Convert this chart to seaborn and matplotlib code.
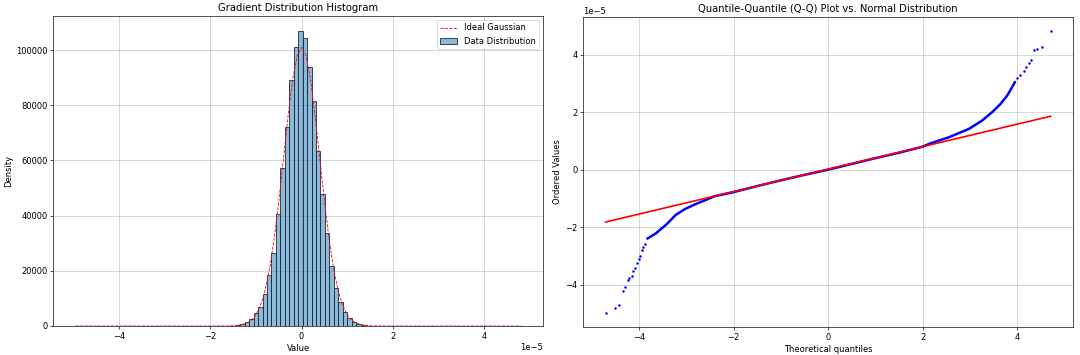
import numpy as np
import pandas as pd
import matplotlib
matplotlib.use("Agg")
import matplotlib.pyplot as plt
import seaborn as sns

# ---- histogram (values in units of 1e-5, densities) ----
hist_range = (-4.96, 4.81)
n_bins = 100
# bar heights for bins 33..67 (all other bins are ~0)
first_bin = 33
bar_heights = [
    40, 80, 150,
    300, 700, 1600, 2500, 4600, 6800, 11600, 18400, 26400, 40700,
    57100, 72200, 89100, 101000,
    107000,
    104400, 93700, 81600, 63400, 48000, 33700, 21600, 13700, 8800,
    5200, 3000, 1600, 700,
    300, 150, 60, 30,
]

# ideal gaussian curve (x in 1e-5, density)
gauss_x = [-4.96, -2.0, -1.6, -1.4, -1.2, -1.1, -1.0, -0.9, -0.8, -0.7, -0.6,
           -0.5, -0.4, -0.3, -0.2, -0.1, 0.0, 0.1, 0.2, 0.3, 0.4, 0.5, 0.6,
           0.7, 0.8, 0.9, 1.0, 1.1, 1.2, 1.4, 1.6, 2.0, 4.81]
gauss_y = [0, 0, 30, 190, 1000, 2100, 4100, 7500, 13000, 21000, 31900,
           45300, 60500, 75700, 88900, 97800, 101000, 97800, 88900, 75700,
           60500, 45300, 31900, 21000, 13000, 7500, 4100, 2100, 1000, 190,
           30, 0, 0]

# ---- Q-Q plot (theoretical quantiles, ordered values in 1e-5) ----
qq_dense_x = [-3.82, -3.73, -3.65, -3.55, -3.44, -3.33, -3.23, -3.12, -3.02,
              -2.81, -2.60, -2.42, -2.0, -1.5, -1.0, -0.5, 0.0, 0.5, 1.0,
              1.5, 2.0, 2.14, 2.56, 2.98, 3.26, 3.47, 3.65, 3.79, 3.89, 3.95]
qq_dense_y = [-2.39, -2.30, -2.22, -2.08, -1.93, -1.75, -1.58, -1.46, -1.36,
              -1.20, -1.06, -0.93, -0.78, -0.57, -0.37, -0.18, 0.0, 0.20,
              0.40, 0.59, 0.80, 0.90, 1.13, 1.42, 1.71, 2.00, 2.29, 2.58,
              2.86, 3.04]
qq_tail_x = [-4.70, -4.51, -4.42, -4.35, -4.29, -4.24, -4.21, -4.16, -4.13,
             -4.08, -4.05, -4.01, -3.98, -3.94, -3.91, -3.88,
             4.00, 4.07, 4.14, 4.19, 4.25, 4.30, 4.35, 4.42, 4.53, 4.71]
qq_tail_y = [-4.97, -4.82, -4.70, -4.22, -4.09, -3.84, -3.78, -3.70, -3.51,
             -3.43, -3.26, -3.09, -3.00, -2.80, -2.68, -2.57,
             3.18, 3.30, 3.44, 3.56, 3.70, 3.82, 4.17, 4.19, 4.27, 4.83]
qq_line_x = [-4.71, 4.71]
qq_line_y = [-1.82, 1.86]

scale = 1e-5

fig = plt.figure(figsize=(18, 355 / 60), dpi=60)
ax1 = fig.add_axes([0.0494, 0.0817, 0.4534, 0.8733])
ax2 = fig.add_axes([0.5401, 0.0797, 0.4534, 0.8733])

# histogram
lo, hi = hist_range[0] * scale, hist_range[1] * scale
width = (hi - lo) / n_bins
heights = np.zeros(n_bins)
heights[first_bin:first_bin + len(bar_heights)] = bar_heights
hist_df = pd.DataFrame({
    "value": lo + width * (np.arange(n_bins) + 0.5),
    "density": heights,
})

ax1.set_axisbelow(True)
ax1.grid(True, color="#b0b0b0", alpha=0.6, linewidth=1)
sns.histplot(data=hist_df, x="value", weights="density", bins=n_bins,
             binrange=(lo, hi), stat="count", ax=ax1,
             facecolor=(0.122, 0.467, 0.706, 0.5), edgecolor="#1c2b3f",
             linewidth=1.0, label="Data Distribution")
sns.lineplot(x=np.array(gauss_x) * scale, y=gauss_y, ax=ax1, color="red",
             linestyle="--", linewidth=1.0, estimator=None, sort=False,
             label="Ideal Gaussian")
ax1.set_title("Gradient Distribution Histogram")
ax1.set_xlabel("Value")
ax1.set_ylabel("Density")
h, l = ax1.get_legend_handles_labels()
order = [l.index("Ideal Gaussian"), l.index("Data Distribution")]
ax1.legend([h[i] for i in order], [l[i] for i in order], loc="upper right")

# q-q plot
ax2.set_axisbelow(True)
ax2.grid(True, color="#b0b0b0", alpha=0.6, linewidth=1)
sns.lineplot(x=qq_dense_x, y=np.array(qq_dense_y) * scale, ax=ax2,
             color="blue", linewidth=3.0, estimator=None, sort=False)
sns.scatterplot(x=qq_tail_x, y=np.array(qq_tail_y) * scale, ax=ax2,
                color="blue", s=9, linewidth=0)
sns.lineplot(x=qq_line_x, y=np.array(qq_line_y) * scale, ax=ax2,
             color="red", linewidth=2, estimator=None, sort=False)
ax2.set_title("Quantile-Quantile (Q-Q) Plot vs. Normal Distribution")
ax2.set_xlabel("Theoretical quantiles")
ax2.set_ylabel("Ordered Values")

fig.savefig("out.png", dpi=60)
